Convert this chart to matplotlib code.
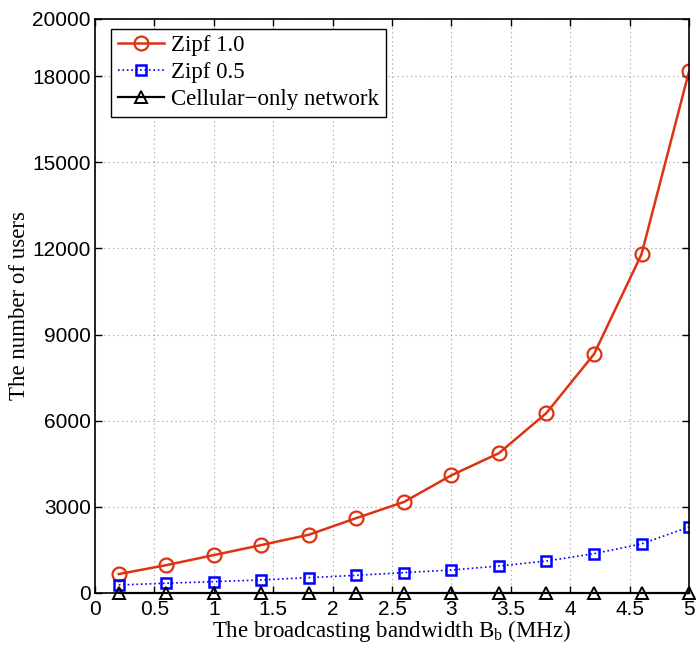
import matplotlib
matplotlib.use('Agg')
import matplotlib.pyplot as plt
import numpy as np

bandwidth = [0.2, 0.6, 1.0, 1.4, 1.8, 2.2, 2.6, 3.0, 3.4, 3.8, 4.2, 4.6, 5.0]
zipf_10 = [660, 970, 1320, 1670, 2030, 2610, 3170, 4100, 4870, 6270, 8320, 11800, 18170]
zipf_05 = [280, 340, 395, 455, 535, 615, 710, 800, 940, 1115, 1370, 1710, 2300]
cellular = [15, 15, 15, 15, 15, 15, 15, 15, 15, 15, 15, 15, 15]

x_ticks = [0, 0.5, 1, 1.5, 2, 2.5, 3, 3.5, 4, 4.5, 5]
x_tick_labels = ['0', '0.5', '1', '1.5', '2', '2.5', '3', '3.5', '4', '4.5', '5']
y_ticks = [0, 3000, 6000, 9000, 12000, 15000, 18000, 20000]

plt.rcParams['mathtext.fontset'] = 'custom'
plt.rcParams['mathtext.rm'] = 'Liberation Serif'
plt.rcParams['mathtext.it'] = 'Liberation Serif:italic'

fig = plt.figure(figsize=(6.96, 6.49), dpi=100)
ax = fig.add_axes([0.1365, 0.0863, 0.8535, 0.8847])

ax.plot(bandwidth, zipf_10, color='#dd3311', linestyle='-', linewidth=1.8,
        marker='o', markersize=10, markerfacecolor='none', markeredgewidth=1.6,
        label='Zipf 1.0')
ax.plot(bandwidth, zipf_05, color='#0000ff', linestyle=':', linewidth=1.2,
        marker='s', markersize=7.5, markerfacecolor='none', markeredgewidth=1.8,
        label='Zipf 0.5')
ax.plot(bandwidth, cellular, color='black', linestyle='-', linewidth=1.6,
        marker='^', markersize=8, markerfacecolor='none', markeredgewidth=1.4,
        label='Cellular\u2212only network', clip_on=False)

ax.set_xlim(0, 5)
ax.set_ylim(0, 20000)
ax.set_xticks(x_ticks)
ax.set_xticklabels(x_tick_labels, fontsize=15, family='Liberation Sans')
ax.set_yticks(y_ticks)
ax.set_yticklabels([str(v) for v in y_ticks], fontsize=15, family='Liberation Sans')

ax.tick_params(direction='in', top=True, right=True, length=5, width=1)
ax.tick_params(axis='x', pad=5)
ax.tick_params(axis='y', pad=3)
ax.grid(True, linestyle=(0, (1, 3)), color='#999999', linewidth=0.8)
for sp in ax.spines.values():
    sp.set_linewidth(1.2)

ax.set_xlabel(r'The broadcasting bandwidth B$_\mathrm{b}$ (MHz)', fontsize=16.5,
              family='Liberation Serif', labelpad=-1)
ax.set_ylabel('The number of users', fontsize=16.5, family='Liberation Serif', labelpad=2)

leg = ax.legend(loc='upper left', prop={'family': 'Liberation Serif', 'size': 16.5},
                fancybox=False, edgecolor='black', framealpha=1, handlelength=2.0,
                borderpad=0.3, labelspacing=0.25, handletextpad=0.3,
                borderaxespad=0, bbox_to_anchor=(0.027, 0.983))
leg.get_frame().set_linewidth(1.0)

fig.savefig('out.png', dpi=100)
